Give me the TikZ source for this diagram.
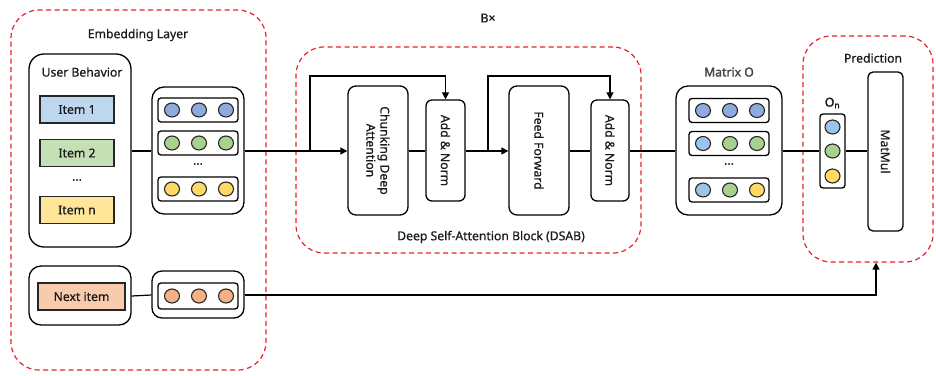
\documentclass[tikz,border=0pt]{standalone}
\usepackage{fontspec}
\setmainfont{Noto Sans}[RawFeature={embolden=0.6}]
\newfontfamily\heavyfont{Noto Sans}[RawFeature={embolden=2.2}]
\usetikzlibrary{arrows.meta,shapes.geometric}

\definecolor{txt}{HTML}{1A1A1A}
\definecolor{redd}{HTML}{E8202A}
\definecolor{fblue}{HTML}{BDD7EE}
\definecolor{fgreen}{HTML}{C5E0B4}
\definecolor{fyellow}{HTML}{FFE699}
\definecolor{forange}{HTML}{F8CBAD}
\definecolor{cblue}{HTML}{8FAADC}
\definecolor{clblue}{HTML}{9DC3E6}
\definecolor{cgreen}{HTML}{A9D18E}
\definecolor{cyellow}{HTML}{FFD966}
\definecolor{corange}{HTML}{F4B183}

\tikzset{
  every node/.style={font=\fontsize{12.2}{14}\selectfont, text=txt},
  group/.style={draw=redd, line width=1.2pt, dash pattern=on 5pt off 3.5pt, rounded corners=28pt, inner sep=0pt},
  rbox/.style={draw=black, line width=1.3pt, fill=white, inner sep=0pt},
  itembox/.style={draw=black!85, line width=1.3pt, inner sep=0pt, minimum width=74pt, minimum height=27pt},
  vrow/.style={rbox, rounded corners=3pt, minimum width=80pt, minimum height=24pt},
  dot/.style={draw=black!85, line width=1.1pt, ellipse, inner sep=0pt, minimum width=15pt, minimum height=14pt},
  conn/.style={draw=black, line width=1.2pt},
  arr/.style={conn, -{Triangle[length=7pt,width=7pt]}},
  vtext/.style={rotate=-90, align=center},
  boldlabel/.style={font=\fontsize{12.2}{14}\selectfont\heavyfont},
}

\begin{document}
\begin{tikzpicture}[x=1pt,y=-1pt]
\useasboundingbox (0,0) rectangle (936,375);

% ---------------- Embedding layer ----------------
\node[group, minimum width=255pt, minimum height=360pt] (emblayer) at (138.5,190) {};
\node (emblabel) at (138,35) {Embedding Layer};

\node[rbox, rounded corners=15pt, minimum width=102pt, minimum height=193pt] (ub) at (80,150.5) {};
\node (ublabel) at (82,72) {User Behavior};
\node[itembox, fill=fblue] (item1) at (77,109.5) {Item 1};
\node[itembox, fill=fgreen] (item2) at (77,153) {Item 2};
\node (itemdots) at (77,180) {...};
\node[itembox, fill=fyellow] (itemn) at (77,210) {Item n};

\node[rbox, rounded corners=12pt, minimum width=92pt, minimum height=127pt] (emb) at (198,150.5) {};
\node[vrow] (er1) at (198,110) {};
\node[vrow] (er2) at (198,143) {};
\node (erdots) at (198,164) {...};
\node[vrow] (er3) at (198,189) {};
\foreach \x [count=\i] in {172,199,226}{
  \node[dot, fill=cblue] (ea\i) at (\x,110) {};
  \node[dot, fill=cgreen] (eb\i) at (\x,143) {};
  \node[dot, fill=cyellow] (ec\i) at (\x,189) {};
}

\node[rbox, rounded corners=12pt, minimum width=102pt, minimum height=59pt] (nextbox) at (80,295.5) {};
\node[itembox, fill=forange, minimum width=87pt] (nextitem) at (81.5,296.5) {Next item};

\node[rbox, rounded corners=10pt, minimum width=92pt, minimum height=47pt] (nextemb) at (198,294.5) {};
\node[vrow, minimum height=26pt] (nr) at (198,296) {};
\foreach \x [count=\i] in {172,199,226}{
  \node[dot, fill=corange] (nd\i) at (\x,296) {};
}

\draw[conn] (ub.east |- 0,151) -- (emb.west |- 0,151);
\draw[conn] (nextbox.east |- 0,296) -- (nextemb.west |- 0,295);

% ---------------- Deep self-attention block ----------------
\node (blabel) at (488,18) {B×};
\node[group, minimum width=345pt, minimum height=206pt] (dsab) at (468.5,150) {};
\node (dsablabel) at (491,237) {Deep Self-Attention Block (DSAB)};

\node[rbox, rounded corners=8pt, minimum width=60pt, minimum height=129pt] (chunk) at (378,150.5) {};
\node[vtext] at (chunk.center) {Chunking Deep\\Attention};
\node[rbox, rounded corners=6pt, minimum width=39pt, minimum height=101pt] (an1) at (445.5,150.5) {};
\node[vtext] at (an1.center) {Add \& Norm};
\node[rbox, rounded corners=8pt, minimum width=60pt, minimum height=129pt] (ff) at (539,150.5) {};
\node[vtext] at (ff.center) {Feed Forward};
\node[rbox, rounded corners=6pt, minimum width=38pt, minimum height=101pt] (an2) at (610,150.5) {};
\node[vtext] at (an2.center) {Add \& Norm};

\coordinate (br1) at (310,151);
\coordinate (br2) at (488,151);

\draw[arr] (emb.east |- 0,151) -- (chunk.west |- 0,151);
\draw[arr] (br1) -- (310,76) -| (an1.north);
\draw[conn] (chunk.east |- 0,151) -- (an1.west |- 0,151);
\draw[arr] (an1.east |- 0,151) -- (ff.west |- 0,151);
\draw[arr] (br2) -- (488,76) -| (an2.north);
\draw[conn] (ff.east |- 0,151) -- (an2.west |- 0,151);

% ---------------- Matrix O ----------------
\node[boldlabel, text=black!72] (olabel) at (729,72) {Matrix O};
\node[rbox, rounded corners=12pt, minimum width=106pt, minimum height=129pt] (mato) at (729,150.5) {};
\node[vrow] (or1) at (729,110.5) {};
\node[vrow] (or2) at (729,143.5) {};
\node (ordots) at (729,164) {...};
\node[vrow] (or3) at (729,190) {};
\node[dot, fill=cblue] (oa1) at (703,110.5) {};
\node[dot, fill=cblue] (oa2) at (730,110.5) {};
\node[dot, fill=cblue] (oa3) at (757,110.5) {};
\node[dot, fill=clblue] (ob1) at (703,143.5) {};
\node[dot, fill=cgreen] (ob2) at (730,143.5) {};
\node[dot, fill=cgreen] (ob3) at (757,143.5) {};
\node[dot, fill=clblue] (oc1) at (703,190) {};
\node[dot, fill=cgreen] (oc2) at (730,190) {};
\node[dot, fill=cyellow] (oc3) at (757,190) {};

\draw[conn] (an2.east |- 0,151) -- (mato.west |- 0,151);

% ---------------- Prediction ----------------
\node[group, minimum width=130pt, minimum height=226pt] (pred) at (868,149) {};
\node (predlabel) at (873,58) {Prediction};

\node[boldlabel] (onlabel) at (832.5,103) {O\textsubscript{n}};
\node[rbox, rounded corners=3pt, minimum width=25pt, minimum height=74pt] (on) at (832.5,151) {};
\node[dot, fill=clblue] (on1) at (832.5,127) {};
\node[dot, fill=cgreen] (on2) at (832.5,151) {};
\node[dot, fill=cyellow] (on3) at (832.5,176) {};

\node[rbox, rounded corners=5pt, minimum width=35pt, minimum height=159pt] (matmul) at (885.5,151.5) {};
\node[vtext] at (matmul.center) {MatMul};

\draw[conn] (mato.east |- 0,151) -- (on.west |- 0,151);
\draw[conn] (on.east |- 0,151) -- (matmul.west |- 0,151);

\draw[arr] (nextemb.east |- 0,295) -| (pred.south -| 876,0);
\end{tikzpicture}
\end{document}
